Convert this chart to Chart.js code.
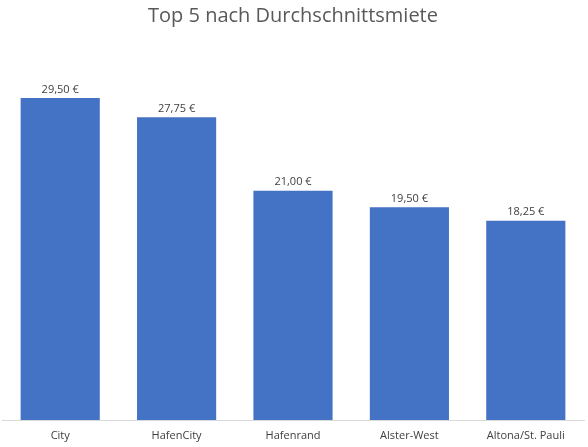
<!DOCTYPE html>
<html>
<head>
<meta charset="utf-8">
<script src="https://cdn.jsdelivr.net/npm/chart.js@4"></script>
<style>
  html, body { margin: 0; padding: 0; background: #fff; }
  #wrap { width: 588px; height: 447px; }
</style>
</head>
<body>
<div id="wrap"><canvas id="mieteChart"></canvas></div>
<script>
// Top 5 districts by average rent (EUR per m²)
const districts = ['City', 'HafenCity', 'Hafenrand', 'Alster-West', 'Altona/St. Pauli'];
const rents = [29.50, 27.75, 21.00, 19.50, 18.25];
const yMax = 35;

const fmtEuro = v => v.toFixed(2).replace('.', ',') + ' €';

// draws the value above each bar
const valueLabels = {
    id: 'valueLabels',
    afterDatasetsDraw(chart) {
        const ctx = chart.ctx;
        const meta = chart.getDatasetMeta(0);
        ctx.save();
        ctx.font = '11px "Open Sans", sans-serif';
        ctx.fillStyle = '#404040';
        ctx.textAlign = 'center';
        ctx.textBaseline = 'bottom';
        meta.data.forEach((bar, i) => {
            ctx.fillText(fmtEuro(rents[i]), bar.x, bar.y - 3);
        });
        ctx.restore();
    }
};

new Chart(document.getElementById('mieteChart'), {
    type: 'bar',
    data: {
        labels: districts,
        datasets: [{
            data: rents,
            backgroundColor: '#4472C4',
            categoryPercentage: 1,
            barPercentage: 0.68
        }]
    },
    options: {
        responsive: true,
        maintainAspectRatio: false,
        animation: false,
        layout: { padding: { left: 2, right: 4, top: 0, bottom: 4 } },
        plugins: {
            legend: { display: false },
            tooltip: { enabled: false },
            title: {
                display: true,
                text: 'Top 5 nach Durchschnittsmiete',
                color: '#595959',
                font: { family: '"Open Sans", sans-serif', size: 20, weight: 'normal' },
                padding: { top: 4, bottom: 10 }
            }
        },
        scales: {
            y: {
                display: false,
                min: 0,
                max: yMax
            },
            x: {
                grid: { display: false },
                border: { color: '#d9d9d9' },
                ticks: {
                    color: '#404040',
                    font: { family: '"Open Sans", sans-serif', size: 11, lineHeight: 1 },
                    padding: 2
                }
            }
        }
    },
    plugins: [valueLabels]
});
</script>
</body>
</html>
